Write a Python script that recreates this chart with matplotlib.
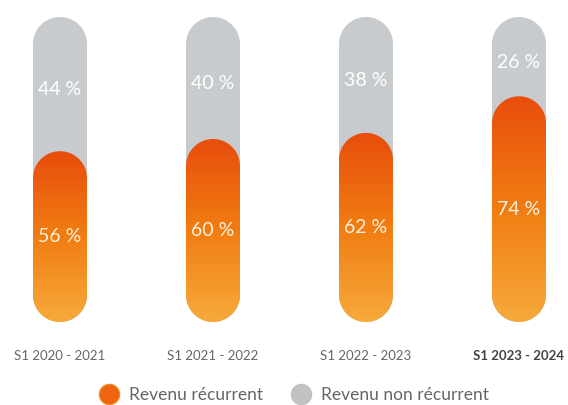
import matplotlib
matplotlib.use("Agg")
import matplotlib.pyplot as plt
import numpy as np
from matplotlib.patches import Polygon
from matplotlib.colors import LinearSegmentedColormap
from matplotlib.lines import Line2D

plt.rcParams['font.family'] = ['Lato', 'DejaVu Sans']

periods = ["S1 2020 - 2021", "S1 2021 - 2022", "S1 2022 - 2023", "S1 2023 - 2024"]
recurrent = [56, 60, 62, 74]
non_recurrent = [44, 40, 38, 26]

GRAY = "#c8cbcd"
ORANGE_TOP = "#e84d0c"
ORANGE_MID = "#f17d12"
ORANGE_BOT = "#f7aa3c"
grad = LinearSegmentedColormap.from_list("og", [ORANGE_BOT, ORANGE_MID, ORANGE_TOP])

W, H = 568, 405
fig = plt.figure(figsize=(W / 100, H / 100), dpi=100)
# axes: y 0..100 maps to pixel rows 322..17, x spacing 153 px with first bar at 60 px
y_bot, y_top = 322, 17
ax = fig.add_axes([0, (H - y_bot) / H, 1, (y_bot - y_top) / H])
step = 153.0
x0 = 60.0
ax.set_xlim(-x0 / step, (W - x0) / step)
ax.set_ylim(0, 100)
for s in ax.spines.values():
    s.set_visible(False)
ax.set_yticks([])

bar_px = 54.0
bw = bar_px / step
rx = bw / 2
ry = rx * (100.0 / (y_bot - y_top)) * step   # same radius in pixels


def pill(x, y0, h, **kw):
    # bar with semicircular ends (circular on screen)
    t = np.linspace(0, np.pi, 60)
    top = np.column_stack([x + rx * np.cos(t), y0 + h - ry + ry * np.sin(t)])
    bot = np.column_stack([x - rx * np.cos(t), y0 + ry - ry * np.sin(t)])
    return Polygon(np.vstack([top, bot]), closed=True, **kw)


xs = np.arange(len(periods))
gvals = np.linspace(0, 1, 256).reshape(-1, 1)
for i, x in enumerate(xs):
    total = recurrent[i] + non_recurrent[i]
    ax.add_patch(pill(x, 0, total, facecolor=GRAY, edgecolor="none", zorder=1))
    clip = pill(x, 0, recurrent[i], facecolor="none", edgecolor="none", zorder=2)
    ax.add_patch(clip)
    im = ax.imshow(gvals, cmap=grad, origin="lower", aspect="auto",
                   extent=(x - bw / 2, x + bw / 2, 0, recurrent[i]), zorder=2)
    im.set_clip_path(clip)
    ax.text(x, recurrent[i] / 2, f"{recurrent[i]} %", color="#fff1e0",
            ha="center", va="center", fontsize=14, zorder=3)
    ax.text(x, recurrent[i] + non_recurrent[i] / 2 - 1.8, f"{non_recurrent[i]} %",
            color="white", ha="center", va="center", fontsize=14, zorder=3)

ax.set_xticks(xs)
ax.set_xticklabels(periods, fontsize=9.5, color="#666666")
ax.tick_params(axis="x", length=0, pad=20)
ax.get_xticklabels()[-1].set_fontweight("bold")
ax.get_xticklabels()[-1].set_color("#444444")

handles = [
    Line2D([], [], marker="o", linestyle="none", markersize=14.5,
           markerfacecolor="#ee6410", markeredgecolor="#f08a20"),
    Line2D([], [], marker="o", linestyle="none", markersize=14.5,
           markerfacecolor="#bfc1c3", markeredgecolor="#bfc1c3"),
]
fig.legend(handles, ["Revenu récurrent", "Revenu non récurrent"], loc="center",
           bbox_to_anchor=(0.511, 9.5 / H), ncol=2, frameon=False, fontsize=12.5,
           labelcolor="#666666", handletextpad=0.15, columnspacing=1.15)

fig.savefig("out.png", dpi=100)
